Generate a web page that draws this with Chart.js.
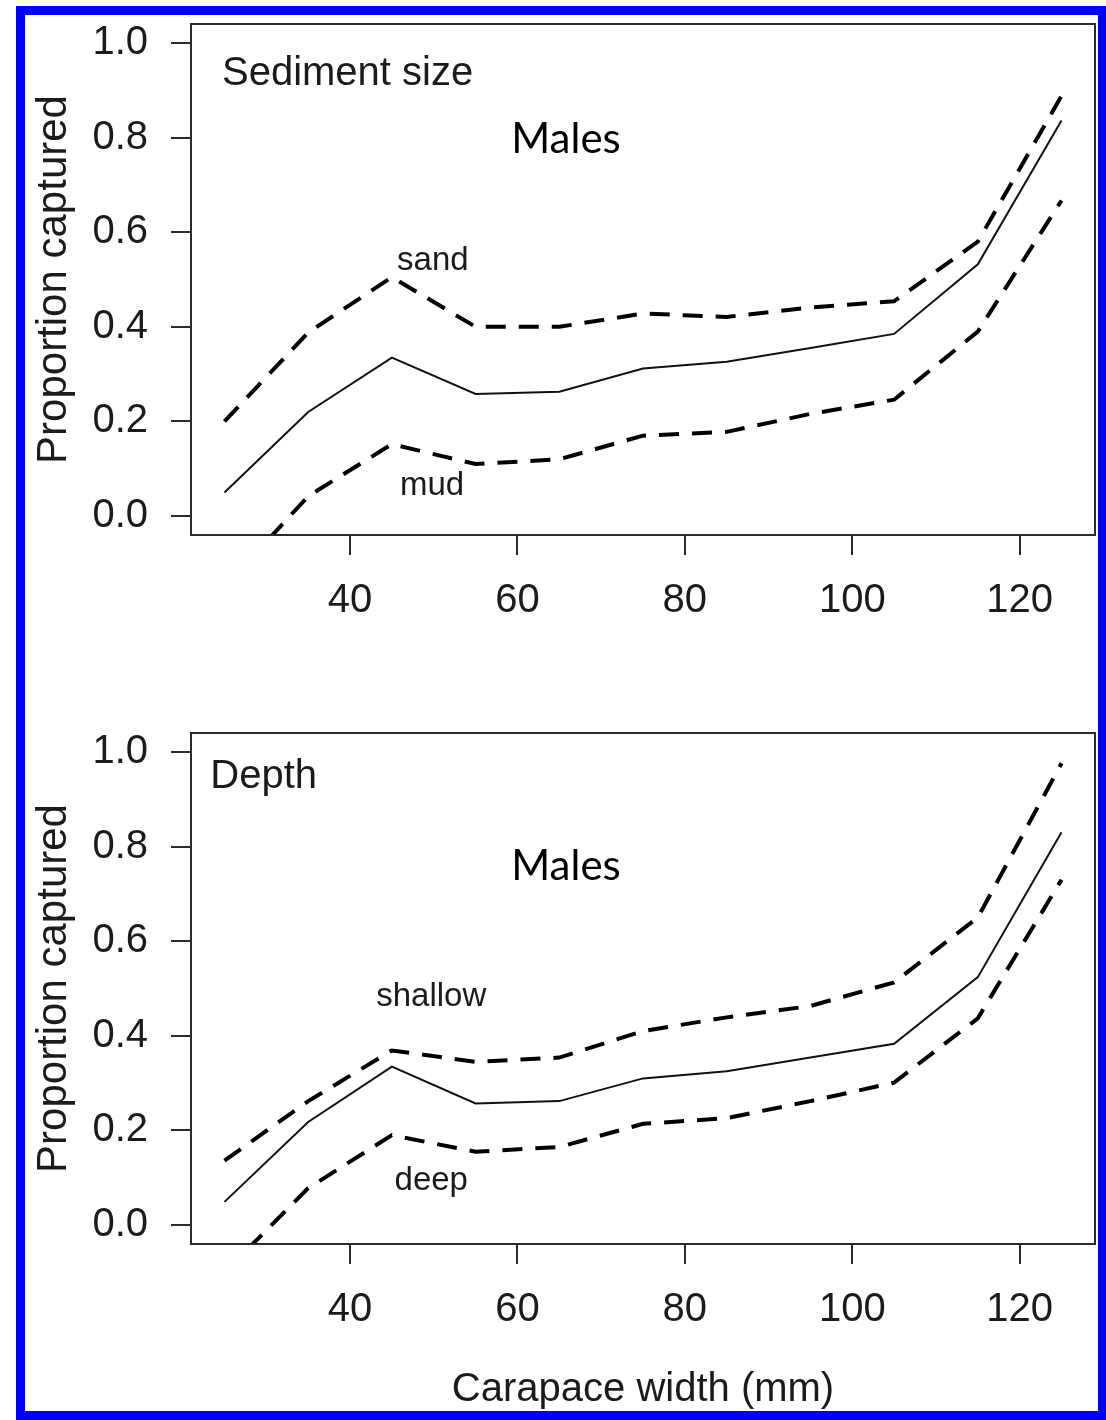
<!DOCTYPE html>
<html>
<head>
<meta charset="utf-8">
<script src="https://cdn.jsdelivr.net/npm/chart.js@4.4.1/dist/chart.umd.min.js"></script>
<style>
html, body { margin: 0; padding: 0; background: #ffffff; }
#wrap { position: relative; width: 1106px; height: 1420px; overflow: hidden; background: #ffffff; }
#frame { position: absolute; left: 16px; top: 6px; width: 1090px; height: 1414px; box-sizing: border-box;
         border-style: solid; border-color: #0000ff; border-width: 9px 8px 9px 9px; z-index: 5; pointer-events: none; }
canvas { position: absolute; left: 0; }
#c1 { top: 0; }
#c2 { top: 700px; }
</style>
</head>
<body>
<div id="wrap">
  <canvas id="c1" width="1106" height="700"></canvas>
  <canvas id="c2" width="1106" height="720"></canvas>
  <div id="frame"></div>
</div>
<script>
// ---- data ----
const carapaceWidth = [25, 35, 45, 55, 65, 75, 85, 95, 105, 115, 125];

const sedimentFit  = [0.050, 0.220, 0.335, 0.258, 0.263, 0.312, 0.326, 0.355, 0.385, 0.532, 0.836];
const sedimentSand = [0.200, 0.388, 0.505, 0.400, 0.400, 0.428, 0.421, 0.441, 0.454, 0.580, 0.888];
const sedimentMud  = [-0.150, 0.042, 0.152, 0.110, 0.120, 0.170, 0.178, 0.216, 0.246, 0.390, 0.667];

const depthFit     = [0.049, 0.218, 0.335, 0.257, 0.262, 0.310, 0.325, 0.354, 0.383, 0.524, 0.830];
const depthShallow = [0.136, 0.262, 0.369, 0.345, 0.354, 0.410, 0.439, 0.463, 0.513, 0.650, 0.976];
const depthDeep    = [-0.100, 0.078, 0.190, 0.155, 0.165, 0.214, 0.226, 0.262, 0.301, 0.437, 0.730];

const xTickValues = [40, 60, 80, 100, 120];
const yTickValues = [0, 0.2, 0.4, 0.6, 0.8, 1.0];

const yAxisTitle = 'Proportion captured';
const xAxisTitle = 'Carapace width (mm)';

// ---- styling / layout ----
const INK = '#1b1b1b';
const AXIS_FONT = "'Liberation Sans', Arial, Helvetica, sans-serif";

const boxPlugin = {
  id: 'plotBox',
  afterDraw(chart) {
    const { ctx, chartArea: a } = chart;
    ctx.save();
    ctx.strokeStyle = '#2b2b2b';
    ctx.lineWidth = 2;
    ctx.strokeRect(a.left, a.top, a.right - a.left, a.bottom - a.top);
    ctx.restore();
  }
};

const textPlugin = {
  id: 'panelText',
  afterDraw(chart, args, opts) {
    const { ctx } = chart;
    const xs = chart.scales.x, ys = chart.scales.y;
    ctx.save();
    (opts.items || []).forEach(it => {
      ctx.font = it.font;
      ctx.fillStyle = it.color || INK;
      ctx.textAlign = it.align || 'center';
      ctx.textBaseline = 'alphabetic';
      ctx.fillText(it.text, xs.getPixelForValue(it.x), ys.getPixelForValue(it.y));
    });
    ctx.restore();
  }
};

function series(values) {
  return carapaceWidth.map((x, i) => ({ x: x, y: values[i] }));
}

function makeChart(canvasId, fit, upper, lower, opt) {
  const dashed = { borderColor: '#000', borderWidth: 4, borderDash: [20, 13], borderCapStyle: 'butt',
                   pointRadius: 0, tension: 0, fill: false, clip: 0 };
  return new Chart(document.getElementById(canvasId), {
    type: 'line',
    data: {
      datasets: [
        { label: 'fit', data: series(fit), borderColor: '#111', borderWidth: 2, pointRadius: 0, tension: 0, fill: false, clip: 0 },
        Object.assign({ label: 'upper', data: series(upper) }, dashed),
        Object.assign({ label: 'lower', data: series(lower) }, dashed)
      ]
    },
    options: {
      responsive: false,
      animation: false,
      devicePixelRatio: 1,
      layout: { padding: { top: opt.padTop, right: 11, left: 0, bottom: 0 } },
      plugins: {
        legend: { display: false },
        tooltip: { enabled: false },
        panelText: { items: opt.texts }
      },
      scales: {
        x: {
          type: 'linear', min: 21, max: 129,
          afterBuildTicks: s => { s.ticks = xTickValues.map(v => ({ value: v })); },
          afterFit: s => { s.height = opt.xAxisHeight; s.paddingLeft = 0; s.paddingRight = 0; },
          border: { display: false },
          grid: { drawOnChartArea: false, drawTicks: true, tickLength: 20, color: '#2b2b2b', lineWidth: 2 },
          ticks: { color: INK, font: { family: AXIS_FONT, size: 40 }, padding: 22, maxRotation: 0,
                   callback: v => String(v) },
          title: { display: !!opt.xTitle, text: opt.xTitle || '', color: INK,
                   font: { family: AXIS_FONT, size: 40 }, padding: { top: 0, bottom: 6 } }
        },
        y: {
          type: 'linear', min: -0.04, max: 1.04,
          afterBuildTicks: s => { s.ticks = yTickValues.map(v => ({ value: v })); },
          afterFit: s => { s.width = 191; s.paddingTop = 0; s.paddingBottom = 0; },
          border: { display: false },
          grid: { drawOnChartArea: false, drawTicks: true, tickLength: 20, color: '#2b2b2b', lineWidth: 2 },
          ticks: { color: INK, font: { family: AXIS_FONT, size: 40 }, padding: 23,
                   callback: v => Number(v).toFixed(1) },
          title: { display: true, text: yAxisTitle, color: INK,
                   font: { family: AXIS_FONT, size: 42 }, padding: { top: 29, bottom: 0 } }
        }
      }
    },
    plugins: [boxPlugin, textPlugin]
  });
}

const panelFont = "40px " + AXIS_FONT;
const curveFont = "33px " + AXIS_FONT;
const malesFont = "42px Lato, 'Open Sans', sans-serif";

makeChart('c1', sedimentFit, sedimentSand, sedimentMud, {
  padTop: 24, xAxisHeight: 165, xTitle: null,
  texts: [
    { text: 'Sediment size', x: 24.7, y: 0.912, font: panelFont, align: 'left' },
    { text: 'Males', x: 65.8, y: 0.767, font: malesFont, color: '#000' },
    { text: 'sand', x: 49.9, y: 0.52, font: curveFont },
    { text: 'mud', x: 49.8, y: 0.044, font: curveFont }
  ]
});

makeChart('c2', depthFit, depthShallow, depthDeep, {
  padTop: 33, xAxisHeight: 176, xTitle: xAxisTitle,
  texts: [
    { text: 'Depth', x: 23.3, y: 0.923, font: panelFont, align: 'left' },
    { text: 'Males', x: 65.8, y: 0.729, font: malesFont, color: '#000' },
    { text: 'shallow', x: 49.7, y: 0.462, font: curveFont },
    { text: 'deep', x: 49.7, y: 0.074, font: curveFont }
  ]
});
</script>
</body>
</html>
